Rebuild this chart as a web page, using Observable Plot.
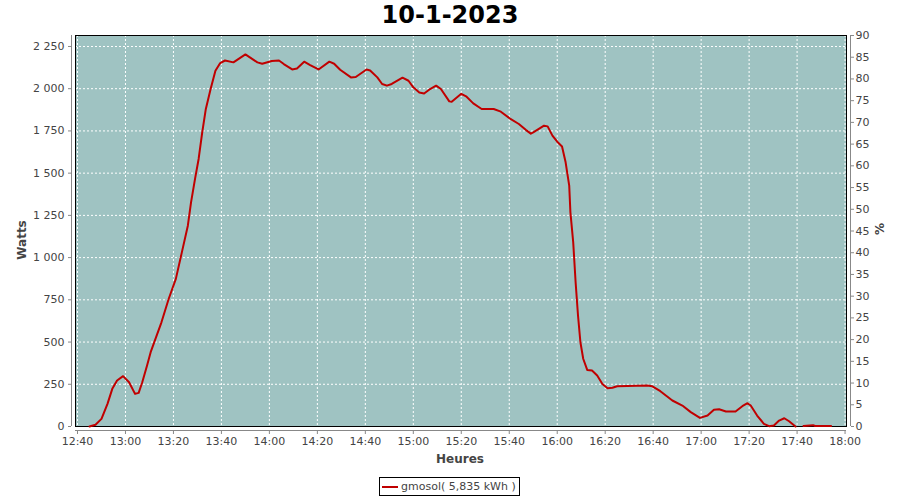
<!DOCTYPE html>
<html>
<head>
<meta charset="utf-8">
<script src="https://cdn.jsdelivr.net/npm/d3@7"></script>
<script src="https://cdn.jsdelivr.net/npm/@observablehq/plot@0.6"></script>
<style>
  html, body { margin: 0; padding: 0; background: #fff; }
  #wrap { position: relative; width: 900px; height: 500px; font-family: "DejaVu Sans", sans-serif; }
  #wrap svg { position: absolute; left: 0; top: 0; }
  .lbl { position: absolute; color: #444; white-space: nowrap; }
  #title { left: 0; width: 900px; top: 0; text-align: center; font-size: 24px; font-weight: bold; color: #000; line-height: 30px; }
  #xlab { left: 0; width: 920px; top: 451px; text-align: center; font-size: 12px; font-weight: bold; line-height: 16px; }
  #ylab { left: 22px; top: 240px; font-size: 12px; font-weight: bold; transform: translate(-50%, -50%) rotate(-90deg); }
  #y2lab { left: 880px; top: 229px; font-size: 12px; font-weight: bold; transform: translate(-50%, -50%) rotate(-90deg); }
  #legend { position: absolute; left: 379px; top: 477px; width: 141px; height: 19px; border: 1px solid #000; box-sizing: border-box; background: #fff; font-size: 11px; color: #444; }
  #legend .sw { position: absolute; left: 2px; top: 8px; width: 16px; height: 2px; background: #c00000; }
  #legend .tx { position: absolute; left: 21px; top: 1px; line-height: 16px; }
</style>
</head>
<body>
<div id="wrap">
  <div id="chart"></div>
  <div class="lbl" id="title">10-1-2023</div>
  <div class="lbl" id="xlab">Heures</div>
  <div class="lbl" id="ylab">Watts</div>
  <div class="lbl" id="y2lab">%</div>
  <div id="legend"><span class="sw"></span><span class="tx">gmosol( 5,835 kWh )</span></div>
</div>
<script>
// Time of day (HH:MM:SS) and power (W); null = gap in the data
const times = [
  "12:45:00","12:47:30","12:50:00","12:52:30","12:54:30","12:56:30","12:59:00","13:01:30","13:04:00","13:05:30",
  "13:07:00","13:09:00","13:10:30","13:12:30","13:15:00","13:18:00","13:21:00","13:23:30","13:26:00","13:27:20",
  "13:29:00","13:30:30","13:32:00","13:33:30","13:35:30","13:37:30","13:39:30","13:41:30","13:45:00","13:50:00",
  "13:55:00","13:57:00","14:01:00","14:04:00","14:06:00","14:09:30","14:11:30","14:14:30","14:17:00","14:20:30",
  "14:25:00","14:27:00","14:29:30","14:34:00","14:36:00","14:40:30","14:42:00","14:45:00","14:47:00","14:49:00",
  "14:51:00","14:55:30","14:58:00","15:00:00","15:02:30","15:04:30","15:07:00","15:09:30","15:11:30","15:15:00",
  "15:16:00","15:20:00","15:22:00","15:25:00","15:28:30","15:33:30","15:36:30","15:40:30","15:44:00","15:47:00",
  "15:49:00","15:50:00","15:54:30","15:56:00","15:58:00","16:00:00","16:02:00","16:03:30","16:05:00","16:05:30",
  "16:06:40","16:07:40","16:08:40","16:09:40","16:10:50","16:12:30","16:14:30","16:16:40","16:18:50","16:21:00",
  "16:23:00","16:25:00","16:37:30","16:39:40","16:43:00","16:48:00","16:52:10","16:55:40","16:59:30","17:02:40",
  "17:05:20","17:07:30","17:10:20","17:14:20","17:17:10","17:19:20","17:20:40","17:23:20","17:26:10","17:28:20",
  "17:30:20","17:32:30","17:34:40","17:36:40","17:39:20","17:41:00","17:42:40","17:46:40","17:47:30","17:54:10"
];
const watts = [
  0, 10, 45, 134, 223, 272, 298, 262, 193, 199,
  262, 361, 440, 519, 617, 755, 874, 1031, 1189, 1327,
  1466, 1584, 1741, 1880, 1998, 2106, 2152, 2167, 2156, 2203,
  2156, 2148, 2164, 2167, 2146, 2114, 2120, 2160, 2140, 2114,
  2160, 2148, 2112, 2067, 2069, 2114, 2108, 2067, 2028, 2018,
  2028, 2065, 2047, 2008, 1978, 1972, 1998, 2018, 1998, 1925,
  1923, 1970, 1955, 1913, 1880, 1880, 1864, 1821, 1791, 1755,
  1734, 1741, 1781, 1777, 1722, 1686, 1658, 1564, 1426, 1268,
  1090, 854, 657, 499, 401, 335, 331, 302, 252, 227,
  229, 238, 243, 238, 209, 154, 124, 85, 51, 65,
  99, 102, 89, 89, 120, 138, 124, 65, 16, 2,
  6, 35, 49, 31, 0, null, 3, 8, 3, 3
];
const wattTicks = [0, 250, 500, 750, 1000, 1250, 1500, 1750, 2000, 2250];
const pctTicks = [0, 5, 10, 15, 20, 25, 30, 35, 40, 45, 50, 55, 60, 65, 70, 75, 80, 85, 90];
const xStart = "12:39:10", xEnd = "18:00:36";
const yMax = 2315, pctMax = 90;

const parse = (t) => { const [h, m, s] = t.split(":").map(Number); return new Date(Date.UTC(2023, 0, 10, h, m, s || 0)); };
const data = times.map((t, i) => ({ t: parse(t), w: watts[i] }));
const xTicks = d3.utcMinute.every(20).range(parse("12:40:00"), parse("18:00:01"));
const fmtThousands = (d) => d3.format(",")(d).replace(/,/g, " ");
const toWatt = (p) => p / pctMax * yMax;

const tickColor = "#888", textColor = "#444";

const chart = Plot.plot({
  width: 900,
  height: 500,
  marginLeft: 75,
  marginRight: 54,
  marginTop: 35,
  marginBottom: 74,
  style: { fontFamily: "DejaVu Sans, sans-serif", fontSize: "11px", background: "transparent", overflow: "visible" },
  x: { type: "utc", domain: [parse(xStart), parse(xEnd)] },
  y: { domain: [0, yMax] },
  marks: [
    Plot.frame({ fill: "#9fc3c2" }),
    Plot.gridX(xTicks, { stroke: "#fff", strokeOpacity: 1, strokeDasharray: "2,2", strokeWidth: 1 }),
    Plot.gridY(wattTicks, { stroke: "#fff", strokeOpacity: 1, strokeDasharray: "2,2", strokeWidth: 1 }),
    Plot.frame({ stroke: "#000", strokeWidth: 1 }),
    Plot.line(data, { x: "t", y: "w", stroke: "#c00000", strokeWidth: 2 }),
    // axis lines offset from the plot
    Plot.ruleX([parse(xStart)], { stroke: tickColor, dx: -4, y1: 0, y2: yMax }),
    Plot.ruleX([parse(xEnd)], { stroke: tickColor, dx: 4, y1: 0, y2: yMax }),
    Plot.ruleY([0], { stroke: tickColor, dy: 4 }),
    Plot.axisY(wattTicks, { anchor: "left", dx: -4, tickSize: 3, tickPadding: 4, stroke: tickColor, fill: textColor, tickFormat: fmtThousands, label: null }),
    Plot.axisY(pctTicks.map(toWatt), { anchor: "right", dx: 4, tickSize: 3, tickPadding: 2, stroke: tickColor, fill: textColor, tickFormat: (d) => String(Math.round(d / yMax * pctMax)), label: null }),
    Plot.axisX(xTicks, { anchor: "bottom", dy: 4, tickSize: 4, tickPadding: 3, stroke: tickColor, fill: textColor, tickFormat: d3.utcFormat("%H:%M"), label: null })
  ]
});
document.getElementById("chart").appendChild(chart);
</script>
</body>
</html>
